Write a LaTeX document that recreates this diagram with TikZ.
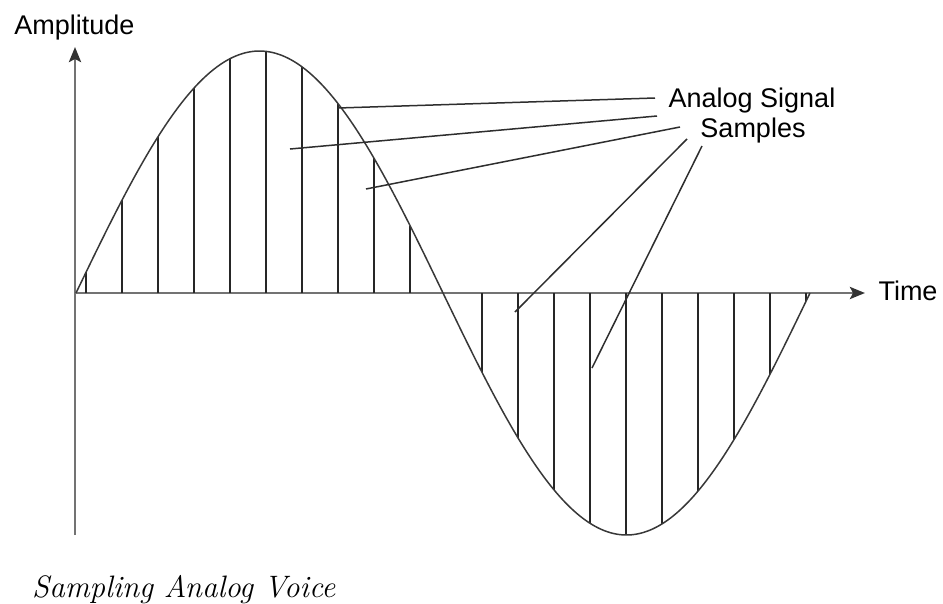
\documentclass[tikz,border=0pt]{standalone}
\usepackage{fontspec}
\setsansfont{Liberation Sans}
\usetikzlibrary{arrows.meta}
\begin{document}
\begin{tikzpicture}[x=1pt,y=-1pt,
  axisline/.style={draw=black!55, line width=2.8pt, -{Stealth[length=15pt,width=12pt,inset=3pt,color=black!80]}},
  wave/.style={draw=black!78, line width=1.5pt},
  sample/.style={draw=black!85, line width=1.9pt},
  leader/.style={draw=black!82, line width=1.5pt},
  lbl/.style={font=\sffamily\fontsize{27}{31}\selectfont, inner sep=0pt, anchor=base},
  captionstyle/.style={font=\rmfamily\itshape\fontsize{31}{36}\selectfont\addfontfeature{LetterSpace=2}, inner sep=0pt, anchor=base west}]
\useasboundingbox (0,0) rectangle (943,603);
% axes
\coordinate (O) at (75,293);
\coordinate (ybot) at (75,535);
\coordinate (ytop) at (75,47);
\coordinate (xend) at (865,293);
\draw[axisline] (ybot) -- (ytop);
\draw[axisline] (O) -- (xend);
% labels
\node[lbl] (amp) at (74.5,34) {Amplitude};
\node[lbl] (time) at (908,300) {Time};
\node[lbl] (sig) at (752,107) {Analog Signal};
\node[lbl] (smp) at (753,137) {Samples};
\node[captionstyle] (caption) at (32,597) {Sampling Analog Voice};
% samples
\foreach \k in {0,...,9,11,12,...,20}{
  \pgfmathsetmacro{\xx}{86+36*\k}
  \pgfmathsetmacro{\yy}{293-242*sin((\xx-76)/734*360)}
  \draw[sample] (\xx,293) -- (\xx,\yy);
}
% waveform
\draw[wave] plot[domain=76:810, samples=240, smooth] (\x,{293-242*sin((\x-76)/734*360)});
% leader lines
\coordinate (s1) at (655,98);
\coordinate (t1) at (338,108);
\coordinate (s2) at (657,116);
\coordinate (t2) at (290,149);
\coordinate (s3) at (680,127);
\coordinate (t3) at (366,189);
\coordinate (s4) at (687,139);
\coordinate (t4) at (515,312);
\coordinate (s5) at (702,146);
\coordinate (t5) at (592,368);
\draw[leader] (s1) -- (t1);
\draw[leader] (s2) -- (t2);
\draw[leader] (s3) -- (t3);
\draw[leader] (s4) -- (t4);
\draw[leader] (s5) -- (t5);
\end{tikzpicture}
\end{document}
